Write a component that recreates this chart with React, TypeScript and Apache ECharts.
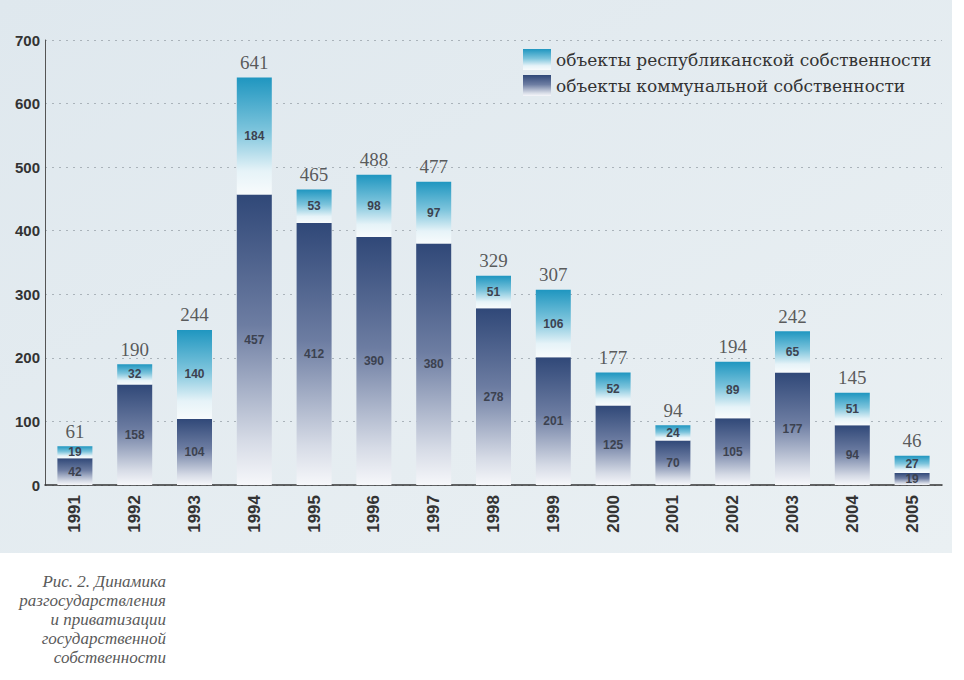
import React, { useEffect, useRef } from "react";
import * as echarts from "echarts";

const years = ["1991","1992","1993","1994","1995","1996","1997","1998","1999","2000","2001","2002","2003","2004","2005"];
const communal = [42, 158, 104, 457, 412, 390, 380, 278, 201, 125, 70, 105, 177, 94, 19];
const republican = [19, 32, 140, 184, 53, 98, 97, 51, 106, 52, 24, 89, 65, 51, 27];
const totals = [61, 190, 244, 641, 465, 488, 477, 329, 307, 177, 94, 194, 242, 145, 46];
const yTicks = [0, 100, 200, 300, 400, 500, 600, 700];
const nameRep = "объекты республиканской собственности";
const nameCom = "объекты коммунальной собственности";
const caption = "Рис. 2. Динамика\nразгосударствления\nи приватизации\nгосударственной\nсобственности";

export default function App() {
  const ref = useRef<HTMLDivElement>(null);
  useEffect(() => {
    if (!ref.current) return;
    const chart = echarts.init(ref.current, null, { renderer: "svg" });
    const G = echarts.graphic.LinearGradient;
    const comGrad = new G(0, 0, 0, 1, [
      { offset: 0, color: "#304878" },
      { offset: 0.45, color: "#6d7da2" },
      { offset: 0.85, color: "#d6dbe6" },
      { offset: 1, color: "#f6f7fa" },
    ]);
    const repGrad = new G(0, 0, 0, 1, [
      { offset: 0, color: "#1f96c0" },
      { offset: 0.45, color: "#7cc4dc" },
      { offset: 0.8, color: "#e6f3f8" },
      { offset: 1, color: "#f8fbfc" },
    ]);
    const segLabel = {
      show: true,
      position: "inside" as const,
      color: "#3c4250",
      fontSize: 12,
      fontWeight: "bold" as const,
      fontFamily: "'Liberation Sans Narrow', 'Liberation Sans', Arial, sans-serif",
    };
    chart.setOption({
      animation: false,
      backgroundColor: "#ffffff",
      graphic: [
        {
          type: "rect",
          z: -10,
          silent: true,
          shape: { x: 0, y: 0, width: 952, height: 553 },
          style: {
            fill: new G(0, 0, 1, 1, [
              { offset: 0, color: "#dfe8ee" },
              { offset: 1, color: "#eaf0f3" },
            ]),
          },
        },
        {
          type: "text",
          x: 166,
          y: 572,
          style: {
            text: caption,
            align: "right",
            verticalAlign: "top",
            fill: "#5a5a5a",
            font: "italic 17px 'Liberation Serif', 'DejaVu Serif', serif",
            lineHeight: 19,
          },
        },
      ],
      legend: {
        data: [nameRep, nameCom],
        orient: "vertical",
        left: 518,
        top: 44,
        itemWidth: 28,
        itemHeight: 21,
        itemGap: 5,
        icon: "rect",
        textStyle: {
          fontFamily: "'DejaVu Serif', 'Liberation Serif', serif",
          fontSize: 17,
          color: "#333",
        },
      },
      grid: { left: 45, right: 22, top: 40, bottom: 195 },
      xAxis: {
        type: "category",
        data: years,
        axisLine: { lineStyle: { color: "#333", width: 1.5 } },
        axisTick: { show: false },
        axisLabel: {
          rotate: 90,
          margin: 10,
          fontSize: 17,
          fontWeight: "bold",
          color: "#333",
          fontFamily: "'Liberation Sans', Arial, sans-serif",
        },
      },
      yAxis: {
        type: "value",
        min: yTicks[0],
        max: yTicks[yTicks.length - 1],
        interval: 100,
        axisLine: { show: true, lineStyle: { color: "#555", width: 1 } },
        axisTick: { show: false },
        axisLabel: {
          fontSize: 15,
          fontWeight: "bold",
          color: "#333",
          margin: 5,
          fontFamily: "'Liberation Sans', Arial, sans-serif",
        },
        splitLine: { lineStyle: { color: "#aab3ba", type: [2, 5], width: 1.2 } },
      },
      series: [
        {
          name: nameCom,
          type: "bar",
          stack: "s",
          barWidth: 35,
          data: communal,
          itemStyle: { color: comGrad },
          label: segLabel,
        },
        {
          name: nameRep,
          type: "bar",
          stack: "s",
          barWidth: 35,
          data: republican,
          itemStyle: { color: repGrad },
          label: segLabel,
        },
        {
          name: "total",
          type: "scatter",
          data: totals,
          symbol: "rect",
          symbolSize: 1,
          itemStyle: { color: "rgba(0,0,0,0)" },
          label: {
            show: true,
            position: "top",
            distance: 5,
            color: "#333",
            fontSize: 19,
            fontFamily: "'Liberation Serif', 'DejaVu Serif', serif",
          },
          z: 5,
        },
      ],
    });
    return () => chart.dispose();
  }, []);
  return (
    <div
      ref={ref}
      style={{ position: "absolute", left: 0, top: 0, width: 964, height: 680 }}
    />
  );
}
